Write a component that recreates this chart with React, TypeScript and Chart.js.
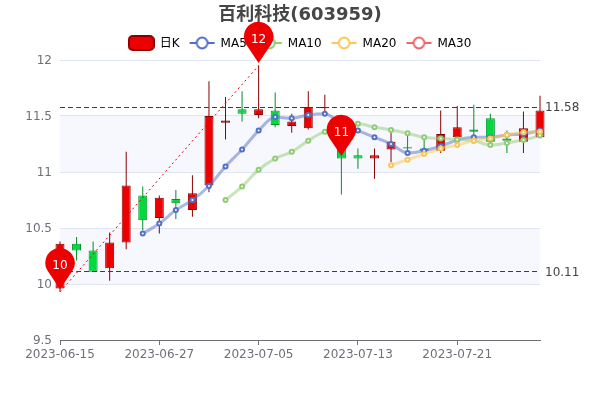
import React, { useEffect, useRef } from "react";
import { Chart, registerables } from "chart.js";

Chart.register(...registerables);

const dates = ["2023-06-15","2023-06-16","2023-06-19","2023-06-20","2023-06-21","2023-06-26","2023-06-27","2023-06-28","2023-06-29","2023-06-30","2023-07-03","2023-07-04","2023-07-05","2023-07-06","2023-07-07","2023-07-10","2023-07-11","2023-07-12","2023-07-13","2023-07-14","2023-07-17","2023-07-18","2023-07-19","2023-07-20","2023-07-21","2023-07-24","2023-07-25","2023-07-26","2023-07-27","2023-07-28"];
const opens = [9.96,10.36,10.30,10.14,10.37,10.79,10.59,10.76,10.66,10.88,11.44,11.56,11.51,11.55,11.41,11.39,11.57,11.30,11.15,11.12,11.20,11.22,11.21,11.19,11.31,11.38,11.48,11.30,11.27,11.31];
const closes = [10.36,10.30,10.11,10.37,10.88,10.57,10.77,10.72,10.81,11.50,11.46,11.52,11.56,11.42,11.45,11.58,11.58,11.12,11.12,11.15,11.27,11.21,11.19,11.34,11.40,11.36,11.27,11.28,11.39,11.55];
const lows = [9.93,10.21,10.11,10.03,10.31,10.48,10.45,10.58,10.60,10.82,11.29,11.45,11.48,11.40,11.35,11.38,11.53,10.80,11.03,10.94,11.09,11.15,11.17,11.17,11.27,11.29,11.26,11.17,11.17,11.31];
const highs = [10.38,10.42,10.38,10.46,11.18,10.87,10.79,10.84,10.97,11.81,11.67,11.72,11.95,11.71,11.52,11.72,11.69,11.38,11.21,11.21,11.35,11.33,11.29,11.55,11.59,11.60,11.52,11.37,11.54,11.68];
const ma5 = [null,null,null,null,null,10.45,10.54,10.66,10.75,10.875,11.05,11.20,11.37,11.49,11.48,11.51,11.52,11.43,11.37,11.31,11.25,11.17,11.19,11.23,11.285,11.31,11.31,11.33,11.34,11.37];
const ma10 = [null,null,null,null,null,null,null,null,null,null,10.75,10.87,11.02,11.12,11.18,11.28,11.36,11.38,11.43,11.40,11.375,11.345,11.31,11.30,11.29,11.28,11.24,11.26,11.285,11.325];
const ma20 = [null,null,null,null,null,null,null,null,null,null,null,null,null,null,null,null,null,null,null,null,11.06,11.11,11.16,11.21,11.24,11.28,11.30,11.33,11.355,11.36];
const ma30: (number | null)[] = dates.map(() => null);
const pinIndexes = [0, 12, 17];
const pinValues = [9.93, 11.95, 11.12];
const pinLabels = ["10", "12", "11"];
const levelValues = [11.58, 10.11];
const legendNames = ["日K", "MA5", "MA10", "MA20", "MA30"];
const yTicks = [9.5, 10, 10.5, 11, 11.5, 12];

const UP = "#ec0000", UP_B = "#8a0000", DOWN = "#00da3c", DOWN_B = "#008f28";
const C5 = "#5470c6", C10 = "#91cc75", C20 = "#fac858", C30 = "#ee6666";
const FONT = "'DejaVu Sans','Noto Sans CJK SC',sans-serif";

function legendIcon(color: string | null) {
  const c = document.createElement("canvas");
  c.width = 27; c.height = 18;
  const g = c.getContext("2d")!;
  if (!color) {
    g.fillStyle = UP; g.strokeStyle = UP_B; g.lineWidth = 2;
    g.beginPath(); g.roundRect(1, 1, 25, 14, 4); g.fill(); g.stroke();
  } else {
    g.strokeStyle = color; g.lineWidth = 2;
    g.beginPath(); g.moveTo(1, 8); g.lineTo(26, 8); g.stroke();
    g.fillStyle = "#fff";
    g.beginPath(); g.arc(13.5, 8, 5.4, 0, Math.PI * 2); g.fill(); g.stroke();
  }
  return c;
}

const marksPlugin = {
  id: "marks",
  beforeDraw(chart: any) {
    const { ctx, chartArea: a, scales: { y } } = chart;
    ctx.save();
    ctx.fillStyle = "#f7f8fd";
    [[10, 10.5], [11, 11.5]].forEach(([lo, hi]) => {
      const t = y.getPixelForValue(hi), b = y.getPixelForValue(lo);
      ctx.fillRect(a.left, t, a.right - a.left, b - t);
    });
    ctx.restore();
  },
  beforeDatasetDraw(chart: any, args: any) {
    const k = args.meta.label === "max" ? 0 : args.meta.label === "min" ? 1 : -1;
    if (k < 0) return;
    const py = chart.scales.y.getPixelForValue(levelValues[k]);
    chart.ctx.save();
    chart.ctx.translate(0, Math.floor(py) + 0.5 - py);
  },
  afterDatasetDraw(chart: any, args: any) {
    if (args.meta.label === "max" || args.meta.label === "min") chart.ctx.restore();
  },
  afterDatasetsDraw(chart: any) {
    const { ctx, chartArea: a, scales: { x, y } } = chart;
    ctx.save();
    ctx.font = "12px " + FONT;
    ctx.fillStyle = "#444";
    ctx.textAlign = "left";
    ctx.textBaseline = "middle";
    levelValues.forEach((v) => ctx.fillText(v.toFixed(2), a.right + 5, y.getPixelForValue(v) + 1));
    pinIndexes.forEach((idx, i) => {
      const px = x.getPixelForValue(idx), cy = y.getPixelForValue(pinValues[i]) - 29;
      const r = 14.7, len = 26.5;
      const ang = Math.asin(r / len);
      ctx.fillStyle = UP;
      ctx.beginPath();
      ctx.arc(px, cy, r, Math.PI - ang, Math.PI * 2 + ang, false);
      ctx.lineTo(px, cy + len);
      ctx.closePath();
      ctx.fill();
      ctx.fillStyle = "#fff";
      ctx.textAlign = "center";
      ctx.fillText(pinLabels[i], px, cy + 3);
    });
    ctx.restore();
  },
};

export default function App() {
  const ref = useRef<HTMLCanvasElement>(null);
  useEffect(() => {
    const bar = (label: string, data: any[], bg: string[], border: string[], w: number, bw: number, order: number) => ({
      type: "bar", label, data, backgroundColor: bg, borderColor: border, borderWidth: bw,
      borderSkipped: false, barThickness: w, grouped: false, order, clip: false, inflateAmount: 0,
    });
    const line = (label: string, data: any[], color: string, order: number) => ({
      type: "line", label, data, borderColor: color + "80", borderWidth: 3, tension: 0.4,
      cubicInterpolationMode: "monotone", pointRadius: 2, pointBorderWidth: 2, pointBorderColor: color,
      pointBackgroundColor: "#fff", order, clip: false, spanGaps: false,
    });
    const mark = (label: string, data: any[], color: string, dash: number[]) => ({
      type: "line", label, data, borderColor: color, borderWidth: 1, borderDash: dash, pointRadius: 0,
      tension: 0, order: 0, spanGaps: true, clip: false,
    });
    const isUp = closes.map((c, i) => c >= opens[i]);
    const diagonal = dates.map((_, i) => { const k = [pinIndexes[0], pinIndexes[1]].indexOf(i); return k >= 0 ? pinValues[k] : null; });
    const chart = new Chart(ref.current!, {
      data: {
        labels: dates,
        datasets: [
          bar("wick", dates.map((_, i) => [lows[i], highs[i]]), isUp.map((u) => (u ? UP_B : DOWN_B)), isUp.map((u) => (u ? UP_B : DOWN_B)), 1, 0, 6),
          bar("日K", dates.map((_, i) => [opens[i], closes[i]]), isUp.map((u) => (u ? UP : DOWN)), isUp.map((u) => (u ? UP_B : DOWN_B)), 9, 1, 5),
          line("MA5", ma5, C5, 4),
          line("MA10", ma10, C10, 3),
          line("MA20", ma20, C20, 2),
          line("MA30", ma30, C30, 1),
          mark("max", dates.map(() => levelValues[0]), "#cc0000", [5, 3]),
          mark("min", dates.map(() => levelValues[1]), "#cc0000", [5, 3]),
          mark("trend", diagonal, "#ec0000", [2, 3]),
        ] as any,
      },
      options: {
        responsive: false,
        animation: false,
        layout: { padding: 0 },
        plugins: {
          tooltip: { enabled: false },
          title: {
            display: true, text: "百利科技(603959)", color: "#464646",
            font: { family: FONT, size: 18, weight: "bold" }, padding: { top: 4.4, bottom: 2 },
          },
          legend: {
            display: true,
            onClick: () => {},
            labels: {
              usePointStyle: true, pointStyleWidth: 25, padding: 10, color: "#333",
              font: { family: FONT, size: 12 },
              generateLabels: () => legendNames.map((text, i) => ({
                text, hidden: false, datasetIndex: i + 1,
                pointStyle: legendIcon([null, C5, C10, C20, C30][i]),
              })),
            },
          },
        },
        scales: {
          x: {
            type: "category", offset: false,
            afterFit: (s: any) => { s.height = 60; },
            border: { color: "#6e7079" },
            grid: { offset: false, drawOnChartArea: false, drawTicks: true, tickLength: 5, tickColor: "#6e7079" },
            ticks: {
              autoSkip: false, maxRotation: 0, minRotation: 0, color: "#6e7079", padding: 3,
              font: { family: FONT, size: 12 },
              callback: (_: any, i: number) => (i % 6 === 0 ? dates[i] : null),
            },
          },
          y: {
            min: yTicks[0], max: yTicks[yTicks.length - 1],
            afterFit: (s: any) => { s.width = 60; },
            border: { display: false },
            grid: { color: "#e0e6f1", drawTicks: false },
            ticks: { stepSize: 0.5, color: "#6e7079", padding: 8, labelOffset: 1, font: { family: FONT, size: 12 }, callback: (v: any) => String(v) },
          },
          yRight: {
            position: "right", min: yTicks[0], max: yTicks[yTicks.length - 1],
            afterFit: (s: any) => { s.width = 60; },
            border: { display: false },
            grid: { display: false, drawOnChartArea: false, drawTicks: false },
            ticks: { display: false },
          },
        },
      } as any,
      plugins: [marksPlugin],
    });
    return () => chart.destroy();
  }, []);
  return (
    <div style={{ position: "absolute", left: 0, top: 0, width: 600, height: 400 }}>
      <canvas ref={ref} width={600} height={400} style={{ display: "block" }} />
    </div>
  );
}
